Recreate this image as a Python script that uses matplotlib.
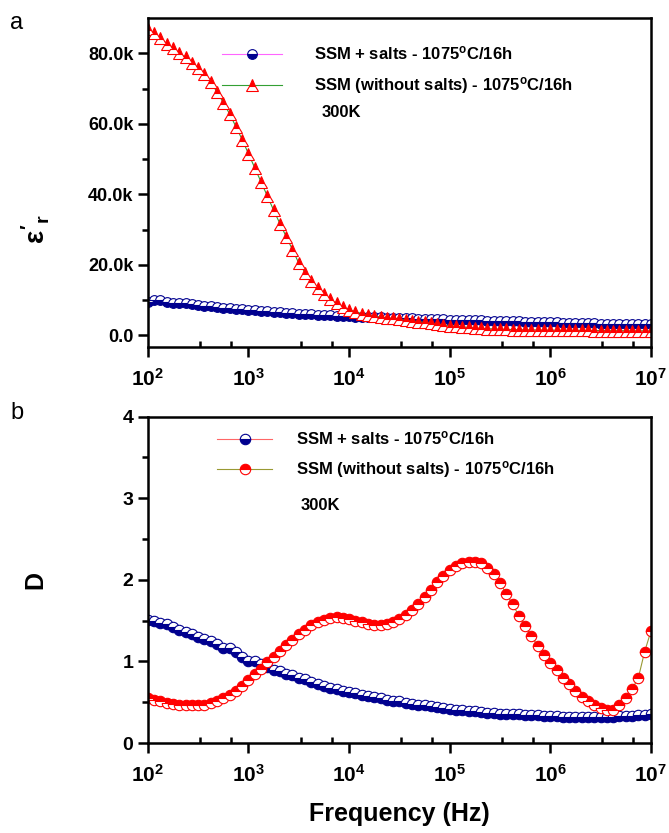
import matplotlib
matplotlib.use("Agg")
import matplotlib.pyplot as plt
from matplotlib.lines import Line2D
from matplotlib.ticker import FixedLocator, NullFormatter

plt.rcParams["font.family"] = ["Liberation Sans", "DejaVu Sans"]
plt.rcParams["font.weight"] = "bold"
plt.rcParams["axes.labelweight"] = "bold"
plt.rcParams["mathtext.fontset"] = "custom"
plt.rcParams["mathtext.rm"] = "Liberation Sans:bold"
plt.rcParams["mathtext.it"] = "Liberation Sans:bold"
plt.rcParams["mathtext.bf"] = "Liberation Sans:bold"

# frequency sweep (Hz), 16 points per decade
freq = [
    1.000e2, 1.155e2, 1.334e2, 1.540e2, 1.778e2, 2.054e2, 2.371e2, 2.738e2,
    3.162e2, 3.652e2, 4.217e2, 4.870e2, 5.623e2, 6.494e2, 7.499e2, 8.660e2,
    1.000e3, 1.155e3, 1.334e3, 1.540e3, 1.778e3, 2.054e3, 2.371e3, 2.738e3,
    3.162e3, 3.652e3, 4.217e3, 4.870e3, 5.623e3, 6.494e3, 7.499e3, 8.660e3,
    1.000e4, 1.155e4, 1.334e4, 1.540e4, 1.778e4, 2.054e4, 2.371e4, 2.738e4,
    3.162e4, 3.652e4, 4.217e4, 4.870e4, 5.623e4, 6.494e4, 7.499e4, 8.660e4,
    1.000e5, 1.155e5, 1.334e5, 1.540e5, 1.778e5, 2.054e5, 2.371e5, 2.738e5,
    3.162e5, 3.652e5, 4.217e5, 4.870e5, 5.623e5, 6.494e5, 7.499e5, 8.660e5,
    1.000e6, 1.155e6, 1.334e6, 1.540e6, 1.778e6, 2.054e6, 2.371e6, 2.738e6,
    3.162e6, 3.652e6, 4.217e6, 4.870e6, 5.623e6, 6.494e6, 7.499e6, 8.660e6,
    1.000e7,
]

# panel a: real permittivity (in thousands)
eps_salts = [
    9.6, 9.9, 10.0, 9.6, 9.3, 9.2, 9.1, 8.9, 8.6, 8.4, 8.3, 8.1, 7.8, 7.7, 7.6, 7.4,
    7.2, 7.1, 6.9, 6.8, 6.7, 6.6, 6.4, 6.3, 6.2, 6.1, 6.0, 5.9, 5.8, 5.7, 5.6, 5.5,
    5.4, 5.35, 5.3, 5.2, 5.15, 5.1, 5.0, 4.95, 4.9, 4.85, 4.8, 4.75, 4.7, 4.65, 4.6, 4.55,
    4.5, 4.45, 4.4, 4.35, 4.3, 4.25, 4.2, 4.15, 4.1, 4.05, 4.0, 3.95, 3.9, 3.85, 3.8, 3.75,
    3.7, 3.65, 3.6, 3.55, 3.5, 3.45, 3.4, 3.37, 3.34, 3.31, 3.28, 3.25, 3.22, 3.19, 3.16, 3.13,
    3.1,
]
eps_nosalts = [
    87.0, 85.6, 84.2, 82.7, 81.4, 80.1, 78.8, 77.3, 75.8, 74.0, 71.8, 69.0, 66.0, 62.8, 59.2, 55.5,
    51.5, 47.5, 43.5, 39.5, 35.5, 31.7, 28.0, 24.3, 20.5, 17.8, 15.3, 13.3, 11.6, 10.2, 9.1, 8.1,
    7.3, 6.7, 6.2, 5.8, 5.5, 5.2, 5.0, 4.8, 4.6, 4.3, 4.1, 3.9, 3.7, 3.45, 3.2, 2.95,
    2.75, 2.55, 2.4, 2.25, 2.1, 2.0, 1.9, 1.82, 1.75, 1.70, 1.66, 1.62, 1.59, 1.56, 1.53, 1.51,
    1.49, 1.47, 1.45, 1.43, 1.42, 1.40, 1.39, 1.37, 1.36, 1.35, 1.33, 1.32, 1.31, 1.30, 1.29, 1.28,
    1.27,
]

# panel b: dielectric loss D
d_salts = [
    1.51, 1.49, 1.47, 1.46, 1.42, 1.38, 1.36, 1.33, 1.30, 1.28, 1.25, 1.21, 1.17, 1.16, 1.11, 1.05,
    1.01, 1.00, 0.97, 0.93, 0.90, 0.88, 0.85, 0.83, 0.80, 0.78, 0.75, 0.72, 0.70, 0.68, 0.66, 0.64,
    0.62, 0.61, 0.59, 0.58, 0.56, 0.55, 0.53, 0.52, 0.51, 0.49, 0.48, 0.47, 0.46, 0.45, 0.44, 0.43,
    0.42, 0.41, 0.40, 0.39, 0.39, 0.38, 0.37, 0.37, 0.36, 0.36, 0.35, 0.35, 0.34, 0.34, 0.34, 0.33,
    0.33, 0.33, 0.32, 0.32, 0.32, 0.32, 0.32, 0.32, 0.32, 0.32, 0.32, 0.33, 0.33, 0.33, 0.34, 0.34,
    0.35,
]
d_nosalts = [
    0.55, 0.53, 0.51, 0.49, 0.48, 0.47, 0.46, 0.46, 0.46, 0.47, 0.49, 0.51, 0.55, 0.59, 0.64, 0.70,
    0.77, 0.84, 0.91, 0.99, 1.06, 1.13, 1.20, 1.26, 1.33, 1.39, 1.44, 1.48, 1.51, 1.53, 1.54, 1.53,
    1.52, 1.50, 1.48, 1.46, 1.45, 1.45, 1.46, 1.48, 1.52, 1.57, 1.63, 1.70, 1.79, 1.88, 1.97, 2.05,
    2.12, 2.17, 2.20, 2.22, 2.22, 2.20, 2.15, 2.07, 1.96, 1.83, 1.70, 1.56, 1.43, 1.31, 1.19, 1.08,
    0.98, 0.89, 0.80, 0.72, 0.64, 0.57, 0.51, 0.46, 0.43, 0.41, 0.41, 0.46, 0.55, 0.66, 0.80, 1.12,
    1.37,
]

label_salts = "SSM + salts - 1075$^{\\mathrm{o}}$C/16h"
label_nosalts = "SSM (without salts) - 1075$^{\\mathrm{o}}$C/16h"
a_yticks = [0, 20, 40, 60, 80]
a_yticklabels = ["0.0", "20.0k", "40.0k", "60.0k", "80.0k"]
b_yticks = [0, 1, 2, 3, 4]
xticks = [1e2, 1e3, 1e4, 1e5, 1e6, 1e7]
xticklabels = ["$10^{2}$", "$10^{3}$", "$10^{4}$", "$10^{5}$", "$10^{6}$", "$10^{7}$"]

NAVY = "#00008f"
RED = "#ff0000"

fig = plt.figure(figsize=(6.69, 8.33), dpi=100)
ax1 = fig.add_axes([0.221, 0.583, 0.752, 0.395])
ax2 = fig.add_axes([0.221, 0.108, 0.752, 0.392])


def style_axis(ax):
    ax.set_xscale("log")
    ax.set_xlim(1e2, 1e7)
    ax.set_xticks(xticks)
    ax.set_xticklabels(xticklabels, fontsize=15)
    minors = [m * 10.0 ** e for e in range(2, 7) for m in (3.3, 6.7)]
    ax.xaxis.set_minor_locator(FixedLocator(minors))
    ax.xaxis.set_minor_formatter(NullFormatter())
    for s in ax.spines.values():
        s.set_linewidth(1.8)
    ax.tick_params(axis="x", which="major", direction="out", length=7, width=1.8, pad=8)
    ax.tick_params(axis="x", which="minor", direction="in", length=4.5, width=1.8)
    ax.tick_params(axis="y", which="major", direction="out", length=7, width=1.8, labelsize=13)
    ax.tick_params(axis="y", which="minor", direction="out", length=4, width=1.8)
    ax.tick_params(top=False, right=False, which="both")


mk = dict(markeredgewidth=0.8, markerfacecoloralt="white", linewidth=0.8)

# panel a
ax1.plot(freq, eps_salts, color="#ff66ff", marker="o", markersize=7, fillstyle="bottom",
         markerfacecolor=NAVY, markeredgecolor=NAVY, **mk)
ax1.plot(freq, eps_nosalts, color="#33a033", marker="^", markersize=8, fillstyle="top",
         markerfacecolor=RED, markeredgecolor=RED, **mk)
style_axis(ax1)
ax1.set_ylim(-3.4, 89.9)
ax1.set_yticks(a_yticks)
ax1.set_yticklabels(a_yticklabels)
ax1.yaxis.set_minor_locator(FixedLocator([10, 30, 50, 70, 90]))
ax1.set_ylabel("$\\epsilon'_{r}$", fontsize=20)
ax1.yaxis.set_label_coords(-0.19, 0.36)

h1 = [
    Line2D([], [], color="#ff66ff", marker="o", markersize=7, fillstyle="bottom",
           markerfacecolor=NAVY, markeredgecolor=NAVY, **mk),
    Line2D([], [], color="#33a033", marker="^", markersize=8, fillstyle="top",
           markerfacecolor=RED, markeredgecolor=RED, **mk),
]
ax1.legend(h1, [label_salts, label_nosalts], loc="upper left", bbox_to_anchor=(0.135, 0.94),
           frameon=False, fontsize=12, handlelength=3.6, handletextpad=1.9, labelspacing=0.75,
           borderaxespad=0)
ax1.text(0.345, 0.70, "300K", transform=ax1.transAxes, fontsize=12, fontweight="bold")

# panel b
ax2.plot(freq, d_salts, color="#ff6666", marker="o", markersize=7.5, fillstyle="bottom",
         markerfacecolor=NAVY, markeredgecolor=NAVY, **mk)
ax2.plot(freq, d_nosalts, color="#999933", marker="o", markersize=7.5, fillstyle="top",
         markerfacecolor=RED, markeredgecolor=RED, **mk)
style_axis(ax2)
ax2.set_ylim(0, 4)
ax2.set_yticks(b_yticks)
ax2.yaxis.set_minor_locator(FixedLocator([0.5, 1.5, 2.5, 3.5]))
ax2.tick_params(axis="y", labelsize=14)
ax2.set_ylabel("D", fontsize=18)
ax2.yaxis.set_label_coords(-0.2, 0.5)
ax2.set_xlabel("Frequency (Hz)", fontsize=18, labelpad=12)

h2 = [
    Line2D([], [], color="#ff6666", marker="o", markersize=7.5, fillstyle="bottom",
           markerfacecolor=NAVY, markeredgecolor=NAVY, **mk),
    Line2D([], [], color="#999933", marker="o", markersize=7.5, fillstyle="top",
           markerfacecolor=RED, markeredgecolor=RED, **mk),
]
ax2.legend(h2, [label_salts, label_nosalts], loc="upper left", bbox_to_anchor=(0.125, 0.98),
           frameon=False, fontsize=12, handlelength=3.3, handletextpad=1.4, labelspacing=0.7,
           borderaxespad=0)
ax2.text(0.303, 0.715, "300K", transform=ax2.transAxes, fontsize=12, fontweight="bold")

fig.text(0.015, 0.965, "a", fontsize=17, fontweight="normal")
fig.text(0.015, 0.497, "b", fontsize=17, fontweight="normal")

fig.savefig("out.png", dpi=100)
